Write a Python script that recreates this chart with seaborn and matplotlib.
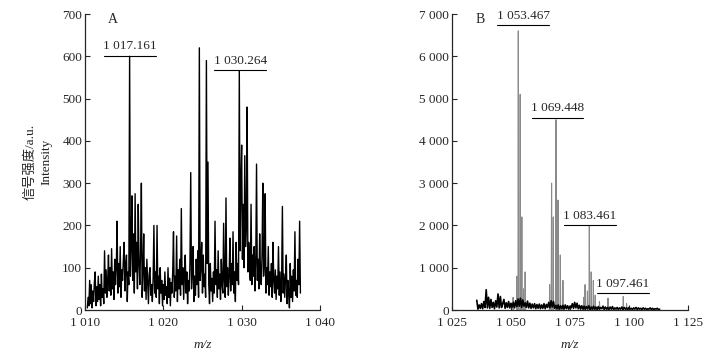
import numpy as np
import pandas as pd
import matplotlib
matplotlib.use("Agg")
import matplotlib.pyplot as plt
from matplotlib.ticker import FuncFormatter
import seaborn as sns

# ---- panel A: intensities on a 0.1 m/z grid, 1010.3 .. 1037.5
mz_a_start, mz_a_step = 1010.3, 0.1
int_a = [
    5, 30, 10, 70, 15, 60, 5, 45, 20, 65,
    90, 10, 55, 20, 80, 25, 60, 10, 85, 30,
    50, 15, 140, 40, 95, 30, 70, 130, 45, 100,
    35, 145, 50, 90, 25, 120, 60, 100, 210, 40,
    110, 55, 150, 30, 95, 70, 120, 160, 45, 105,
    130, 20, 90, 60, 600, 80, 150, 270, 70, 180,
    40, 275, 90, 160, 50, 250, 110, 60, 140, 300,
    30, 90, 180, 45, 100, 25, 120, 70, 15, 85,
    100, 35, 60, 20, 75, 200, 40, 90, 30, 200,
    50, 80, 15, 100, 40, 70, 10, 60, 25, 90,
    35, 55, 15, 100, 30, 75, 10, 65, 40, 90,
    185, 30, 80, 45, 175, 20, 95, 50, 120, 35,
    240, 60, 100, 25, 85, 130, 40, 90, 15, 70,
    45, 110, 325, 50, 95, 150, 20, 80, 35, 120,
    60, 140, 30, 620, 70, 100, 160, 40, 130, 55,
    85, 30, 590, 110, 350, 60, 15, 110, 45, 75,
    20, 90, 40, 210, 60, 95, 30, 140, 50, 85,
    25, 120, 60, 40, 205, 70, 30, 265, 55, 100,
    35, 80, 170, 45, 110, 60, 185, 40, 90, 20,
    160, 70, 110, 60, 565, 140, 300, 390, 120, 250,
    100, 365, 150, 200, 480, 90, 160, 120, 70, 250,
    60, 130, 80, 150, 45, 110, 345, 70, 120, 50,
    180, 90, 60, 130, 300, 80, 110, 275, 40, 100,
    60, 150, 35, 90, 55, 110, 30, 160, 70, 40,
    95, 25, 80, 50, 150, 35, 90, 20, 70, 245,
    40, 85, 30, 75, 130, 15, 70, 40, 5, 110,
    30, 80, 20, 95, 45, 185, 35, 70, 30, 120,
    60, 210, 40,
]
labels_a = ["1 017.161", "1 030.264"]

# ---- panel B: baseline on a 0.5 m/z grid, 1035.5 .. 1113.0
mz_b_start, mz_b_step = 1035.5, 0.5
base_b = [
    230, 20, 120, 40, 150, 30, 200, 60, 480, 50,
    300, 40, 250, 60, 180, 30, 220, 70, 380, 50,
    320, 60, 150, 250, 40, 170, 60, 200, 50, 160,
    70, 180, 50, 220, 80, 260, 90, 280, 60, 240,
    90, 170, 60, 210, 50, 160, 40, 140, 50, 150,
    30, 130, 40, 140, 30, 120, 40, 150, 30, 130,
    60, 180, 50, 220, 70, 200, 40, 110, 30, 120,
    20, 100, 30, 110, 20, 120, 30, 100, 20, 90,
    50, 150, 40, 180, 50, 160, 30, 110, 20, 100,
    20, 90, 20, 80, 30, 100, 10, 70, 20, 90,
    20, 70, 10, 80, 20, 60, 30, 90, 10, 70,
    20, 60, 10, 70, 20, 80, 10, 50, 20, 60,
    10, 50, 20, 70, 10, 60, 20, 50, 10, 60,
    20, 40, 10, 50, 20, 60, 10, 50, 20, 40,
    10, 50, 20, 40, 10, 30, 20, 50, 10, 40,
    10, 30, 20, 40, 10, 20,
]
peak_mz_b = [1050.9, 1052.5, 1053.1, 1053.9, 1054.6, 1055.3, 1056.0,
             1066.4, 1067.2, 1067.9, 1069.1, 1069.9, 1070.9, 1072.0,
             1080.8, 1081.4, 1082.4, 1083.2, 1084.0, 1084.9, 1085.7,
             1087.5, 1091.1, 1097.6, 1099.0]
peak_int_b = [300, 800, 6600, 5100, 2200, 500, 900,
              600, 3000, 2200, 4500, 2600, 1300, 700,
              300, 600, 450, 2000, 900, 700, 350,
              200, 280, 320, 150]
labels_b = ["1 053.467", "1 069.448", "1 083.461", "1 097.461"]

sns.set_style("ticks")
plt.rcParams["font.family"] = ["Liberation Serif", "Noto Sans CJK SC"]
plt.rcParams["font.size"] = 9.5
plt.rcParams["axes.linewidth"] = 0.9
plt.rcParams["xtick.direction"] = "in"
plt.rcParams["ytick.direction"] = "in"

df_a = pd.DataFrame({"mz": mz_a_start + mz_a_step * np.arange(len(int_a)), "intensity": int_a})
df_base = pd.DataFrame({"mz": mz_b_start + mz_b_step * np.arange(len(base_b)), "intensity": base_b})
rows = []
for k, (m, h) in enumerate(zip(peak_mz_b, peak_int_b)):
    rows += [(k, m - 0.15, 0), (k, m, h), (k, m + 0.15, 0)]
df_peaks = pd.DataFrame(rows, columns=["peak", "mz", "intensity"])

fig = plt.figure(figsize=(7.17, 3.51), dpi=100)
ax1 = fig.add_axes([0.1185, 0.1168, 0.3278, 0.8433])
ax2 = fig.add_axes([0.6304, 0.1168, 0.3291, 0.8433])

sns.lineplot(data=df_a, x="mz", y="intensity", ax=ax1, color="black", lw=1.0)
sns.lineplot(data=df_peaks, x="mz", y="intensity", units="peak", estimator=None,
             ax=ax2, color="#8a8a8a", lw=0.8)
sns.lineplot(data=df_base, x="mz", y="intensity", ax=ax2, color="black", lw=1.2)

sep = FuncFormatter(lambda v, p: f"{int(v):,}".replace(",", " "))
for ax, xt, yt in [(ax1, [1010, 1020, 1030, 1040], range(0, 701, 100)),
                   (ax2, [1025, 1050, 1075, 1100, 1125], range(0, 7001, 1000))]:
    ax.set_xlim(xt[0], xt[-1])
    ax.set_ylim(0, yt[-1])
    ax.set_xticks(xt)
    ax.set_yticks(list(yt))
    ax.xaxis.set_major_formatter(sep)
    ax.yaxis.set_major_formatter(sep)
    ax.tick_params(length=3.5, width=0.8, labelsize=9.5)
    ax.tick_params(axis="y", pad=2)
    ax.tick_params(axis="x", pad=5)
    ax.set_xlabel("m/z", fontstyle="italic", fontsize=9.5, labelpad=7)
    ax.set_ylabel("")
    sns.despine(ax=ax)

ax1.set_ylabel("信号强度/a.u.\nIntensity", fontsize=9.5, labelpad=7,
               color="#222222", linespacing=1.5)

# panel letters and peak labels
ax1.text(1013.5, 688, "A", fontsize=10, ha="center", va="center")
ax2.text(1036.9, 6880, "B", fontsize=10, ha="center", va="center")

ann_a = [(1012.4, 1019.1, 601), (1026.5, 1033.1, 567)]
for (x0, x1, y), lab in zip(ann_a, labels_a):
    ax1.plot([x0, x1], [y, y], color="black", lw=0.8)
    ax1.text((x0 + x1) / 2, y + 8, lab, ha="center", va="bottom", fontsize=9.5)

ann_b = [(1044.2, 1066.2, 6740), (1058.8, 1080.6, 4548),
         (1072.5, 1094.4, 2002), (1086.4, 1108.3, 395)]
for (x0, x1, y), lab in zip(ann_b, labels_b):
    ax2.plot([x0, x1], [y, y], color="black", lw=0.8)
    ax2.text((x0 + x1) / 2, y + 80, lab, ha="center", va="bottom", fontsize=9.5)

fig.savefig("out.png", dpi=100)
